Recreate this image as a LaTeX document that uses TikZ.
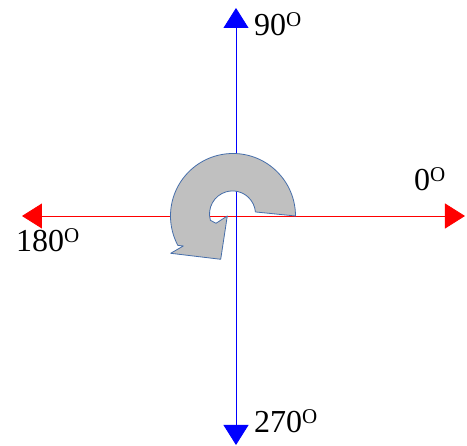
\documentclass[tikz,border=0pt]{standalone}
\usepackage{fontspec}
\setmainfont{Liberation Serif}
\usetikzlibrary{arrows.meta}

\definecolor{turnfill}{RGB}{192,192,192}
\definecolor{turnline}{RGB}{70,110,170}

% superscript O after the angle
\newcommand{\supO}{\raisebox{0.3em}{\fontsize{21}{21}\selectfont O}}

\begin{document}
\begin{tikzpicture}[x=10pt, y=10pt,
    axis/.style={line width=0.8pt, {Triangle[length=20pt,width=25pt]}-{Triangle[length=20pt,width=25pt]}},
    anglelabel/.style={anchor=base west, inner sep=0pt, font=\fontsize{32}{36}\selectfont}]
    \useasboundingbox (-23.6,-23.0) rectangle (23.1,21.6);

    % ends of the two axes
    \coordinate (west) at (-21.4,0);
    \coordinate (east) at (22.9,0);
    \coordinate (north) at (0,20.8);
    \coordinate (south) at (0,-22.9);

    % axes
    \draw[axis, red] (west) -- (east);
    \draw[axis, blue] (south) -- (north);

    % turning arrow
    \draw[turnline, line width=0.8pt, fill=turnfill, line join=round]
        (5.95,0) arc[start angle=0, end angle=208, radius=6.25]
        -- (-5.27,-3.0) -- (-6.53,-3.73) -- (-1.53,-4.33) -- (-0.87,0)
        -- (-2.0,-0.73) -- (-2.56,-0.43)
        arc[start angle=196, end angle=5, radius=2.3] -- cycle;

    % angle labels
    \node[anglelabel] (lbl90) at (1.8,18.0) {90\supO};
    \node[anglelabel] (lbl0) at (17.8,2.5) {0\supO};
    \node[anglelabel] (lbl180) at (-22.0,-3.6) {180\supO};
    \node[anglelabel] (lbl270) at (1.8,-21.7) {270\supO};
\end{tikzpicture}
\end{document}
